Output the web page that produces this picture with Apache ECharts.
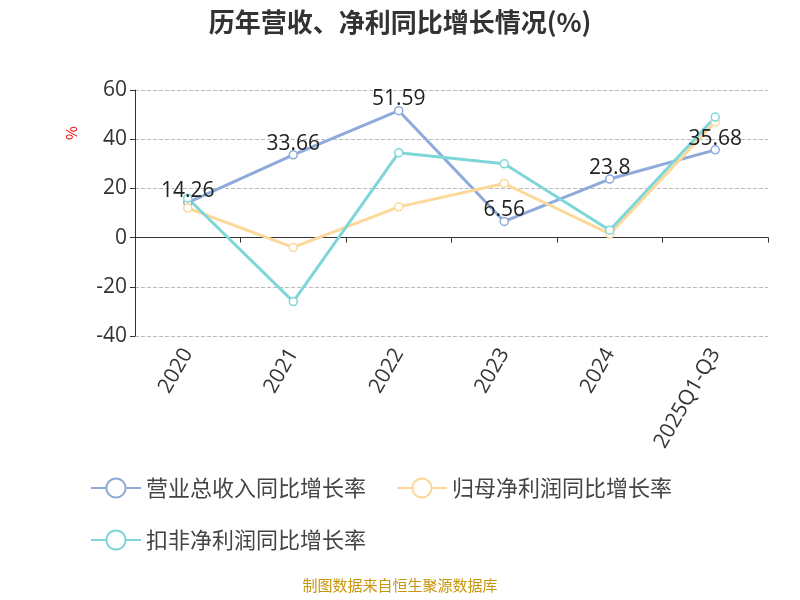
<!DOCTYPE html>
<html><head><meta charset="utf-8">
<script src="https://cdn.jsdelivr.net/npm/echarts@6/dist/echarts.min.js"></script>
<style>html,body{margin:0;padding:0;background:#fff}#c{width:800px;height:600px}</style>
</head><body><div id="c"></div>
<script>
const categories = ['2020','2021','2022','2023','2024','2025Q1-Q3'];
const revenue = [14.26, 33.66, 51.59, 6.56, 23.8, 35.68];
const netProfit = [12, -4, 12.5, 22, 1.5, 47];
const deductedProfit = [16, -26, 34.5, 30, 3, 49];
const yTicks = [-40, 60, 20];
const chart = echarts.init(document.getElementById('c'));
const font = 'Noto Sans CJK SC';
const numFont = 'Open Sans';
function s(name, data, color, label) {
  return {name, type:'line', data, symbol:'circle', symbolSize:8,
    lineStyle:{width:3,color}, itemStyle:{color:'#fff',borderColor:color,borderWidth:1.5},
    label: label ? {show:true, position:'top', fontSize:21, color:'#222', fontFamily:numFont, distance:-4} : {show:false}};
}
chart.setOption({
  textStyle:{fontFamily:font},
  title:{text:'历年营收、净利同比增长情况(%)', left:'center', top:4, textStyle:{fontSize:26,fontWeight:'bold',color:'#333',fontFamily:font}},
  grid:{left:135, right:32, top:90, bottom:264},
  legend:{left:85, top:472, width:680, itemWidth:50, itemHeight:24, itemGap:30,
    textStyle:{fontSize:22,color:'#444',fontFamily:font},
    data:['营业总收入同比增长率','归母净利润同比增长率','扣非净利润同比增长率']},
  xAxis:{type:'category', data:categories, boundaryGap:true,
    axisLine:{lineStyle:{color:'#333'}}, axisTick:{show:true,lineStyle:{color:'#333'}},
    axisLabel:{rotate:60, fontSize:21, color:'#333', margin:14, fontFamily:numFont}},
  yAxis:{type:'value', min:yTicks[0], max:yTicks[1], interval:yTicks[2],
    axisLine:{show:true,lineStyle:{color:'#333'}}, axisTick:{show:true},
    axisLabel:{fontSize:21,color:'#333',fontFamily:numFont},
    splitLine:{lineStyle:{type:'dashed',color:'#bbb'}}},
  series:[
    s('营业总收入同比增长率', revenue, '#8eaadb', true),
    s('归母净利润同比增长率', netProfit, '#fcd899', false),
    s('扣非净利润同比增长率', deductedProfit, '#7fd6d8', false)
  ],
  graphic:[
    {type:'text', left:'center', top:578, style:{text:'制图数据来自恒生聚源数据库', fill:'#c8960a', fontSize:15, fontFamily:font}},
    {type:'text', x:64, y:140, rotation:Math.PI/2, style:{text:'%', fill:'#e00', fontSize:15, fontFamily:font}}
  ]
});
</script></body></html>
